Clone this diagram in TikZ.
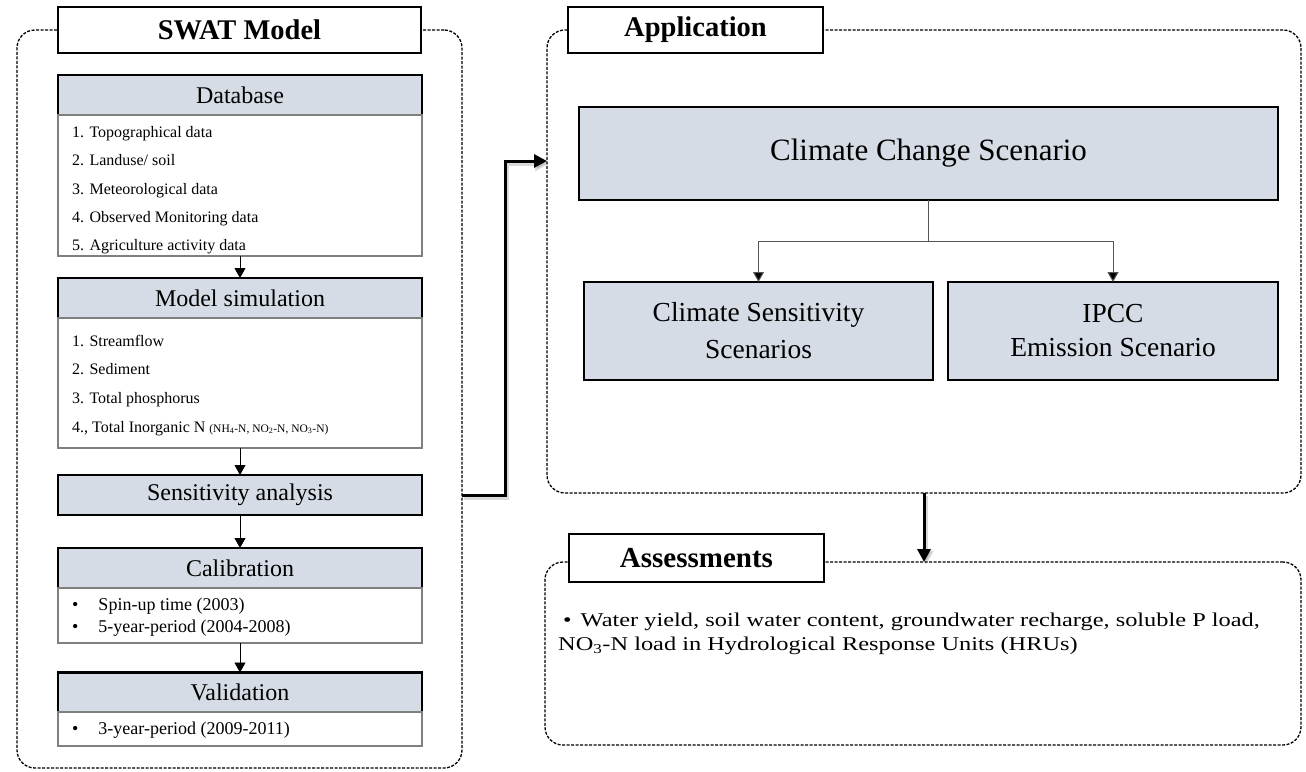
\documentclass[tikz,border=0pt]{standalone}
\usepackage{fontspec}
\setmainfont{Liberation Serif}
\newfontfamily\widefont{Liberation Serif}[FakeStretch=1.25]
\usetikzlibrary{arrows.meta}
\definecolor{hdr}{HTML}{D6DCE5}
\definecolor{bodyline}{HTML}{808080}
\definecolor{conn}{HTML}{555555}
\tikzset{
  container/.style={draw, dash pattern=on 3pt off 1.5pt, line width=1.3pt, rounded corners=18pt, inner sep=0pt, outer sep=0pt},
  titlebox/.style={draw, fill=white, line width=1.3pt, inner sep=0pt, outer sep=0pt, font=\bfseries\fontsize{28.5}{32}\selectfont},
  headbox/.style={draw, fill=hdr, line width=2.3pt, inner sep=0pt, outer sep=0pt, minimum width=364pt, minimum height=40pt, font=\fontsize{24}{28}\selectfont},
  bodybox/.style={draw=bodyline, fill=white, line width=1.7pt, inner sep=0pt, outer sep=0pt, minimum width=364pt},
  itemtext/.style={inner sep=0pt, anchor=base west, font=\fontsize{16}{19}\selectfont},
  bullettext/.style={inner sep=0pt, anchor=base west, font=\fontsize{18}{21}\selectfont},
  smallarr/.style={line width=0.9pt, -{Triangle[width=11pt,length=10pt]}},
  splitline/.style={draw=conn, line width=1pt},
  splitarr/.style={draw=conn, line width=1pt, -{Triangle[width=11pt,length=10pt,fill=black]}},
  bigarr/.style={line width=3pt, -{Triangle[width=13pt,length=13pt]}},
  bigshadow/.style={line width=4pt, draw=black, opacity=0.15, -{Triangle[width=15pt,length=14pt]}},
  scenbox/.style={draw, fill=hdr, inner sep=0pt, outer sep=0pt, align=center}
}
\begin{document}
\begin{tikzpicture}[x=1pt,y=-1pt]
\useasboundingbox (0,0) rectangle (1306,771);

% ---------- SWAT model container ----------
\node[container, minimum width=445pt, minimum height=738pt] (swat) at (239.5,399) {};
\node[titlebox, minimum width=363pt, minimum height=46pt] (swattitle) at (239.5,30) {SWAT Model};

% Database
\node[headbox] (dbh) at (240,95) {Database};
\node[bodybox, minimum height=141pt] (dbb) at (240,185.5) {};
\node[itemtext] (d1) at (72,137) {1. Topographical data};
\node[itemtext] (d2) at (72,165.5) {2. Landuse/ soil};
\node[itemtext] (d3) at (72,194) {3. Meteorological data};
\node[itemtext] (d4) at (72,222) {4. Observed Monitoring data};
\node[itemtext] (d5) at (72,250.5) {5. Agriculture activity data};

% Model simulation
\node[headbox] (msh) at (240,298) {Model simulation};
\node[bodybox, minimum height=130pt] (msb) at (240,383) {};
\node[itemtext] (m1) at (72,346) {1. Streamflow};
\node[itemtext] (m2) at (72,374.5) {2. Sediment};
\node[itemtext] (m3) at (72,403) {3. Total phosphorus};
\node[itemtext] (m4) at (72,432) {4., Total Inorganic N {\fontsize{11.5}{13}\selectfont (NH\textsubscript{4}-N, NO\textsubscript{2}-N, NO\textsubscript{3}-N)}};

% Sensitivity analysis
\node[headbox] (sens) at (240,495) {Sensitivity analysis};

% Calibration
\node[headbox] (calh) at (240,568) {Calibration};
\node[bodybox, minimum height=55pt] (calb) at (240,615.5) {};
\node[bullettext] (c1) at (72,610) {\textbullet\hspace{20pt}Spin-up time (2003)};
\node[bullettext] (c2) at (72,632) {\textbullet\hspace{20pt}5-year-period (2004-2008)};

% Validation
\node[headbox] (valh) at (240,692.5) {Validation};
\node[bodybox, minimum height=34pt] (valb) at (240,729) {};
\node[bullettext] (v1) at (72,734) {\textbullet\hspace{20pt}3-year-period (2009-2011)};

% flow arrows
\draw[smallarr] (dbb.south) -- (msh.north);
\draw[smallarr] (msb.south) -- (sens.north);
\draw[smallarr] (sens.south) -- (calh.north);
\draw[smallarr] (calb.south) -- (valh.north);

% ---------- Application container ----------
\node[container, minimum width=754pt, minimum height=463pt] (app) at (924,261.5) {};
\node[titlebox, minimum width=255pt, minimum height=46pt] (apptitle) at (695.5,30) {Application};

\node[scenbox, line width=1.3pt, minimum width=699pt, minimum height=93pt, font=\fontsize{31}{35}\selectfont] (cc) at (928.5,153.5) {Climate Change Scenario};
\node[scenbox, line width=2.3pt, minimum width=349pt, minimum height=98pt, font=\fontsize{27.5}{37}\selectfont] (cs) at (758.5,331) {Climate Sensitivity\\Scenarios};
\node[scenbox, line width=2.3pt, minimum width=330pt, minimum height=98pt, font=\fontsize{27.5}{34}\selectfont] (ipcc) at (1113,331) {IPCC\\Emission Scenario};

\coordinate (j) at (928,241);
\draw[splitline] (cc.south -| j) -- (j);
\draw[splitarr] (j) -| (cs.north);
\draw[splitarr] (j) -| (ipcc.north);

% ---------- Assessments container ----------
\node[container, minimum width=756pt, minimum height=183pt] (as) at (923,653.5) {};
\node[titlebox, minimum width=255pt, minimum height=48pt, font=\bfseries\fontsize{29}{33}\selectfont] (astitle) at (696.5,558) {Assessments};
\node[inner sep=0pt, anchor=base west, align=left, font=\widefont\fontsize{19.5}{24}\selectfont] (astext) at (558,650)
  {\hspace*{5pt}\textbullet\hspace{9pt}Water yield, soil water content, groundwater recharge, soluble P load,\\NO\textsubscript{3}-N load in Hydrological Response Units (HRUs)};

% ---------- thick connectors ----------
\coordinate (bend) at (505,161);
\draw[bigshadow, transform canvas={xshift=2pt,yshift=-2.5pt}] (swat.east |- sens) -| (bend) -- (app.west |- bend);
\draw[bigarr] (swat.east |- sens) -| (bend) -- (app.west |- bend);
\draw[bigshadow, transform canvas={xshift=2pt,yshift=-2.5pt}] (app.south) -- (app.south |- as.north);
\draw[bigarr] (app.south) -- (app.south |- as.north);
\end{tikzpicture}
\end{document}
